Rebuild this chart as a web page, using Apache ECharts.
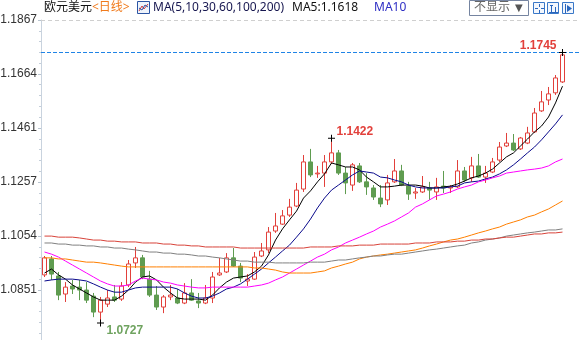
<!DOCTYPE html>
<html>
<head>
<meta charset="utf-8">
<script src="https://cdn.jsdelivr.net/npm/echarts@6/dist/echarts.min.js"></script>
<style>
  html, body { margin: 0; padding: 0; background: #ffffff; }
  #chart { width: 580px; height: 340px; }
</style>
</head>
<body>
<div id="chart"></div>
<script>
// EUR/USD daily bars, oldest first: [open, close, low, high]
const candles = [
  [1.0908, 1.0972, 1.0900, 1.0979],
  [1.0968, 1.0911, 1.0889, 1.0979],
  [1.0904, 1.0832, 1.0813, 1.0919],
  [1.0836, 1.0862, 1.0806, 1.0881],
  [1.0866, 1.0855, 1.0836, 1.0889],
  [1.0862, 1.0851, 1.0813, 1.0889],
  [1.0851, 1.0813, 1.0802, 1.0881],
  [1.0828, 1.0768, 1.0749, 1.0840],
  [1.0768, 1.0813, 1.0727, 1.0825],
  [1.0798, 1.0821, 1.0787, 1.0851],
  [1.0825, 1.0813, 1.0806, 1.0870],
  [1.0817, 1.0866, 1.0810, 1.0881],
  [1.0870, 1.0949, 1.0862, 1.0964],
  [1.0953, 1.0972, 1.0934, 1.1013],
  [1.0972, 1.0900, 1.0892, 1.0983],
  [1.0892, 1.0832, 1.0825, 1.0923],
  [1.0832, 1.0787, 1.0776, 1.0866],
  [1.0787, 1.0825, 1.0764, 1.0832],
  [1.0825, 1.0832, 1.0813, 1.0870],
  [1.0821, 1.0802, 1.0798, 1.0855],
  [1.0802, 1.0840, 1.0798, 1.0877],
  [1.0840, 1.0813, 1.0810, 1.0892],
  [1.0810, 1.0802, 1.0783, 1.0840],
  [1.0802, 1.0821, 1.0798, 1.0870],
  [1.0821, 1.0900, 1.0802, 1.0919],
  [1.0908, 1.0915, 1.0904, 1.0972],
  [1.0919, 1.0972, 1.0915, 1.0990],
  [1.0972, 1.0941, 1.0938, 1.1009],
  [1.0941, 1.0896, 1.0881, 1.0953],
  [1.0885, 1.0892, 1.0866, 1.0911],
  [1.0892, 1.0975, 1.0889, 1.0994],
  [1.0979, 1.0998, 1.0975, 1.1028],
  [1.1002, 1.1069, 1.0990, 1.1088],
  [1.1073, 1.1092, 1.1066, 1.1141],
  [1.1099, 1.1130, 1.1096, 1.1152],
  [1.1133, 1.1163, 1.1126, 1.1194],
  [1.1167, 1.1227, 1.1163, 1.1254],
  [1.1231, 1.1333, 1.1220, 1.1359],
  [1.1333, 1.1284, 1.1276, 1.1382],
  [1.1288, 1.1291, 1.1273, 1.1318],
  [1.1291, 1.1333, 1.1239, 1.1359],
  [1.1333, 1.1367, 1.1325, 1.1422],
  [1.1367, 1.1291, 1.1284, 1.1378],
  [1.1291, 1.1254, 1.1212, 1.1314],
  [1.1246, 1.1322, 1.1224, 1.1329],
  [1.1318, 1.1258, 1.1254, 1.1329],
  [1.1258, 1.1239, 1.1209, 1.1291],
  [1.1235, 1.1201, 1.1190, 1.1246],
  [1.1197, 1.1175, 1.1163, 1.1246],
  [1.1190, 1.1254, 1.1171, 1.1284],
  [1.1258, 1.1299, 1.1254, 1.1344],
  [1.1299, 1.1246, 1.1242, 1.1322],
  [1.1242, 1.1212, 1.1190, 1.1258],
  [1.1216, 1.1220, 1.1194, 1.1235],
  [1.1220, 1.1239, 1.1216, 1.1280],
  [1.1235, 1.1227, 1.1190, 1.1258],
  [1.1220, 1.1239, 1.1190, 1.1273],
  [1.1242, 1.1235, 1.1216, 1.1299],
  [1.1235, 1.1239, 1.1216, 1.1246],
  [1.1239, 1.1299, 1.1235, 1.1340],
  [1.1299, 1.1265, 1.1258, 1.1314],
  [1.1273, 1.1318, 1.1258, 1.1352],
  [1.1318, 1.1276, 1.1273, 1.1363],
  [1.1276, 1.1291, 1.1254, 1.1318],
  [1.1295, 1.1333, 1.1291, 1.1348],
  [1.1340, 1.1389, 1.1333, 1.1408],
  [1.1393, 1.1404, 1.1389, 1.1442],
  [1.1404, 1.1378, 1.1374, 1.1438],
  [1.1382, 1.1423, 1.1378, 1.1427],
  [1.1404, 1.1442, 1.1400, 1.1465],
  [1.1446, 1.1517, 1.1442, 1.1536],
  [1.1525, 1.1559, 1.1521, 1.1600],
  [1.1566, 1.1589, 1.1547, 1.1615],
  [1.1593, 1.1649, 1.1585, 1.1660],
  [1.1634, 1.1736, 1.1630, 1.1745]
];

// Moving averages as quoted by the terminal, one value per bar
const ma5 = [
  1.0915, 1.0930, 1.0908, 1.0892, 1.0870, 1.0855, 1.0840, 1.0825, 1.0813, 1.0813,
  1.0813, 1.0828, 1.0851, 1.0881, 1.0900, 1.0904, 1.0889, 1.0862, 1.0840, 1.0821,
  1.0817, 1.0817, 1.0817, 1.0813, 1.0832, 1.0859, 1.0881, 1.0896, 1.0900, 1.0904,
  1.0919, 1.0941, 1.0983, 1.1039, 1.1081, 1.1115, 1.1148, 1.1197, 1.1224, 1.1258,
  1.1288, 1.1329, 1.1322, 1.1314, 1.1314, 1.1303, 1.1276, 1.1258, 1.1239, 1.1239,
  1.1242, 1.1246, 1.1246, 1.1246, 1.1242, 1.1235, 1.1235, 1.1239, 1.1242, 1.1250,
  1.1261, 1.1273, 1.1280, 1.1291, 1.1306, 1.1329, 1.1352, 1.1367, 1.1393, 1.1419,
  1.1446, 1.1468, 1.1502, 1.1555, 1.1618
];
const ma10 = [
  1.0885, 1.0889, 1.0892, 1.0892, 1.0892, 1.0889, 1.0885, 1.0874, 1.0862, 1.0851,
  1.0843, 1.0843, 1.0851, 1.0859, 1.0862, 1.0862, 1.0862, 1.0862, 1.0862, 1.0855,
  1.0840, 1.0828, 1.0821, 1.0821, 1.0828, 1.0840, 1.0855, 1.0862, 1.0874, 1.0892,
  1.0911, 1.0930, 1.0953, 1.0975, 1.0998, 1.1020, 1.1050, 1.1081, 1.1118, 1.1160,
  1.1197, 1.1227, 1.1246, 1.1265, 1.1284, 1.1299, 1.1295, 1.1291, 1.1276, 1.1273,
  1.1265, 1.1258, 1.1246, 1.1239, 1.1235, 1.1235, 1.1235, 1.1235, 1.1239, 1.1242,
  1.1254, 1.1258, 1.1261, 1.1269, 1.1276, 1.1288, 1.1303, 1.1322, 1.1344, 1.1367,
  1.1389, 1.1416, 1.1446, 1.1476, 1.1510
];
const ma30 = [
  1.0994, 1.0986, 1.0975, 1.0960, 1.0945, 1.0930, 1.0915, 1.0900, 1.0885, 1.0874,
  1.0866, 1.0866, 1.0870, 1.0885, 1.0896, 1.0892, 1.0889, 1.0881, 1.0877, 1.0870,
  1.0866, 1.0862, 1.0859, 1.0859, 1.0862, 1.0862, 1.0862, 1.0862, 1.0862, 1.0862,
  1.0866, 1.0870, 1.0877, 1.0889, 1.0900, 1.0915, 1.0930, 1.0945, 1.0960, 1.0975,
  1.0986, 1.1002, 1.1013, 1.1028, 1.1039, 1.1050, 1.1062, 1.1073, 1.1088, 1.1099,
  1.1111, 1.1126, 1.1141, 1.1163, 1.1175, 1.1190, 1.1205, 1.1212, 1.1220, 1.1231,
  1.1239, 1.1246, 1.1258, 1.1265, 1.1273, 1.1280, 1.1291, 1.1295, 1.1299, 1.1303,
  1.1306, 1.1310, 1.1318, 1.1333, 1.1344
];
const ma60 = [
  1.0972, 1.0972, 1.0968, 1.0968, 1.0964, 1.0960, 1.0956, 1.0956, 1.0953, 1.0949,
  1.0945, 1.0941, 1.0938, 1.0938, 1.0938, 1.0938, 1.0938, 1.0938, 1.0938, 1.0938,
  1.0938, 1.0938, 1.0938, 1.0938, 1.0938, 1.0938, 1.0938, 1.0938, 1.0938, 1.0938,
  1.0934, 1.0934, 1.0930, 1.0926, 1.0919, 1.0915, 1.0915, 1.0915, 1.0915, 1.0919,
  1.0923, 1.0934, 1.0941, 1.0949, 1.0956, 1.0968, 1.0975, 1.0979, 1.0983, 1.0986,
  1.0990, 1.0994, 1.0998, 1.1002, 1.1009, 1.1017, 1.1024, 1.1032, 1.1039, 1.1043,
  1.1050, 1.1058, 1.1066, 1.1073, 1.1081, 1.1088, 1.1099, 1.1107, 1.1115, 1.1126,
  1.1133, 1.1145, 1.1156, 1.1171, 1.1186
];
const ma100 = [
  1.1028, 1.1028, 1.1024, 1.1024, 1.1020, 1.1020, 1.1017, 1.1017, 1.1013, 1.1013,
  1.1009, 1.1009, 1.1005, 1.1002, 1.0998, 1.0994, 1.0994, 1.0990, 1.0990, 1.0986,
  1.0986, 1.0983, 1.0979, 1.0979, 1.0975, 1.0972, 1.0968, 1.0964, 1.0960, 1.0960,
  1.0956, 1.0956, 1.0956, 1.0953, 1.0953, 1.0953, 1.0953, 1.0953, 1.0956, 1.0956,
  1.0956, 1.0960, 1.0964, 1.0964, 1.0968, 1.0972, 1.0975, 1.0979, 1.0979, 1.0983,
  1.0986, 1.0986, 1.0990, 1.0994, 1.0998, 1.1002, 1.1005, 1.1009, 1.1013, 1.1017,
  1.1020, 1.1028, 1.1032, 1.1039, 1.1043, 1.1047, 1.1054, 1.1058, 1.1062, 1.1066,
  1.1069, 1.1073, 1.1077, 1.1077, 1.1081
];
const ma200 = [
  1.1054, 1.1054, 1.1050, 1.1050, 1.1050, 1.1047, 1.1043, 1.1039, 1.1039, 1.1035,
  1.1035, 1.1032, 1.1032, 1.1032, 1.1028, 1.1028, 1.1028, 1.1024, 1.1024, 1.1020,
  1.1020, 1.1017, 1.1017, 1.1013, 1.1013, 1.1013, 1.1013, 1.1013, 1.1009, 1.1009,
  1.1009, 1.1009, 1.1009, 1.1009, 1.1009, 1.1009, 1.1009, 1.1009, 1.1013, 1.1013,
  1.1013, 1.1013, 1.1017, 1.1017, 1.1017, 1.1020, 1.1020, 1.1020, 1.1024, 1.1024,
  1.1024, 1.1024, 1.1024, 1.1028, 1.1028, 1.1028, 1.1032, 1.1032, 1.1032, 1.1035,
  1.1035, 1.1039, 1.1039, 1.1043, 1.1043, 1.1047, 1.1050, 1.1050, 1.1054, 1.1058,
  1.1062, 1.1062, 1.1066, 1.1066, 1.1069
];

// Price scale labels on the left axis
const yTicks = [1.0851, 1.1054, 1.1257, 1.1461, 1.1664, 1.1867];

// Bars whose extremes carry a price tag
const taggedHighs = [41, 74];
const taggedLows = [8];

const symbolName = '欧元美元';
const periodName = '<日线>';
const maTitle = 'MA(5,10,30,60,100,200)';

// ---------------------------------------------------------------------------
const days = candles.map((_, i) => String(i + 1));
const lastPrice = candles[candles.length - 1][3];
const yMin = 1.0663;
const yMax = yTicks[yTicks.length - 1];

// minor ticks: five subdivisions per labelled step
const minorTicks = [];
const step = yTicks[1] - yTicks[0];
for (let k = 1; k < 5; k++) minorTicks.push(yTicks[0] - step * k / 5);
for (let i = 0; i < yTicks.length - 1; i++) {
  const a = yTicks[i], b = yTicks[i + 1];
  for (let k = 1; k < 5; k++) minorTicks.push(a + (b - a) * k / 5);
}

const UP = '#e2403b';
const DOWN = '#5f9c50';
const plus = 'path://M0,3H7V4H0Z M3,0H4V7H3Z';

const tagPoints = [];
taggedHighs.forEach(i => {
  const v = candles[i][3];
  const rightSide = i > candles.length - 5;
  tagPoints.push({
    coord: [days[i], v], value: v,
    label: {
      color: UP, align: rightSide ? 'right' : 'left',
      offset: rightSide ? [-6, -7] : [5, -7]
    }
  });
});
taggedLows.forEach(i => {
  const v = candles[i][2];
  tagPoints.push({
    coord: [days[i], v], value: v,
    label: { color: '#6fa35f', align: 'left', offset: [6, 8] }
  });
});

const maSeries = [
  { name: 'MA5', data: ma5, color: '#000000' },
  { name: 'MA10', data: ma10, color: '#0a0a8c' },
  { name: 'MA30', data: ma30, color: '#ff00ff' },
  { name: 'MA60', data: ma60, color: '#ff7f00' },
  { name: 'MA100', data: ma100, color: '#808080' },
  { name: 'MA200', data: ma200, color: '#d8433a' }
].map(m => ({
  name: m.name,
  type: 'line',
  data: m.data,
  showSymbol: false,
  symbol: 'none',
  smooth: false,
  z: 3,
  silent: true,
  lineStyle: { color: m.color, width: 1 }
}));

// last-price line and the dashed top rule of the price pane
maSeries[0].clip = false;
maSeries[0].markLine = {
  silent: true, symbol: 'none', animation: false, precision: 4,
  label: { show: false },
  data: [
    { yAxis: lastPrice, lineStyle: { color: '#1f84e6', width: 1, type: [4, 2] } },
    { yAxis: yMax, lineStyle: { color: '#cfcfcf', width: 1, type: [4, 3] } }
  ]
};

const headerFont = '12px "Noto Sans", "Noto Sans CJK SC", sans-serif';
function label(x, text, fill, font) {
  return {
    type: 'text', x: x, y: 8, silent: true,
    style: { text: text, fill: fill, font: font || headerFont, verticalAlign: 'middle' }
  };
}
function iconBox(x) {
  return {
    type: 'rect', shape: { x: x + 0.5, y: 2.5, width: 11, height: 11 },
    style: { fill: '#f3f7fd', stroke: '#3a78c8', lineWidth: 1 }
  };
}
const iconInk = { stroke: '#2a66bd', lineWidth: 1, fill: null };

const chart = echarts.init(document.getElementById('chart'), null, { renderer: 'canvas' });
chart.setOption({
  animation: false,
  backgroundColor: '#ffffff',
  grid: { left: 41, right: 0, top: 20, bottom: 0, outerBoundsMode: 'none' },
  xAxis: {
    type: 'category', data: days, max: days.length + 1, boundaryGap: true,
    axisLine: { show: false }, axisTick: { show: false }, axisLabel: { show: false },
    splitLine: { show: false }
  },
  yAxis: [
    {
      type: 'value', position: 'left', min: yMin, max: yMax, scale: true,
      axisLine: { show: true, lineStyle: { color: '#c9d3de' } },
      axisTick: { show: true, inside: false, length: 3, customValues: yTicks,
                  lineStyle: { color: '#b8c4d0' } },
      axisLabel: {
        show: true, customValues: yTicks, margin: 4,
        color: '#333333', fontSize: 12, fontFamily: '"Liberation Sans", Arial, sans-serif',
        formatter: v => v.toFixed(4)
      },
      splitLine: { show: false }
    },
    {
      type: 'value', position: 'left', min: yMin, max: yMax, scale: true,
      axisLine: { show: false },
      axisTick: { show: true, inside: false, length: 2, customValues: minorTicks,
                  lineStyle: { color: '#c4ced9' } },
      axisLabel: { show: false },
      splitLine: { show: false }
    }
  ],
  series: [
    {
      name: symbolName,
      type: 'candlestick',
      data: candles,
      barWidth: 5,
      z: 2,
      silent: true,
      itemStyle: {
        color: '#ffffff', color0: DOWN,
        borderColor: UP, borderColor0: DOWN, borderWidth: 1
      },
      markPoint: {
        silent: true, animation: false,
        symbol: plus, symbolSize: [7, 7],
        itemStyle: { color: '#000000' },
        label: {
          show: true, position: 'inside', verticalAlign: 'middle',
          fontSize: 12, fontWeight: 'bold',
          fontFamily: '"Liberation Sans", Arial, sans-serif',
          formatter: p => Number(p.value).toFixed(4)
        },
        data: tagPoints
      }
    }
  ].concat(maSeries),
  graphic: [
    label(44, symbolName, '#111111'),
    label(92, periodName, '#f07a1c'),
    {
      type: 'group', x: 137, y: 1, children: [
        { type: 'rect', shape: { x: 0.5, y: 0.5, width: 12, height: 12 },
          style: { fill: '#eef3fb', stroke: '#2b55a4', lineWidth: 1 } },
        { type: 'polyline', shape: { points: [[2, 10], [5, 5], [7, 8], [11, 3]] },
          style: { stroke: '#d23a3a', lineWidth: 1, fill: null } },
        { type: 'polyline', shape: { points: [[2, 7], [5, 9], [8, 4], [11, 6]] },
          style: { stroke: '#2b55a4', lineWidth: 1, fill: null } }
      ]
    },
    label(153, maTitle, '#16164f'),
    label(292, 'MA5:' + ma5[ma5.length - 1].toFixed(4), '#111111'),
    label(374, 'MA10', '#2d2dc4'),
    {
      type: 'rect', shape: { x: 469.5, y: 0.5, width: 59, height: 15 },
      style: { fill: '#ffffff', stroke: '#7584a0', lineWidth: 1 }
    },
    label(474, '不显示', '#666666'),
    label(515, '▼', '#555555', '10px "DejaVu Sans", sans-serif'),
    iconBox(533),
    { type: 'group', x: 533, y: 2, children: [
      { type: 'line', shape: { x1: 6.5, y1: 2, x2: 6.5, y2: 5 }, style: iconInk },
      { type: 'line', shape: { x1: 6.5, y1: 8, x2: 6.5, y2: 11 }, style: iconInk },
      { type: 'line', shape: { x1: 2, y1: 6.5, x2: 5, y2: 6.5 }, style: iconInk },
      { type: 'line', shape: { x1: 8, y1: 6.5, x2: 11, y2: 6.5 }, style: iconInk }
    ] },
    iconBox(547),
    { type: 'group', x: 547, y: 2, children: [
      { type: 'line', shape: { x1: 2, y1: 10.5, x2: 11, y2: 10.5 }, style: iconInk },
      { type: 'line', shape: { x1: 4.5, y1: 3, x2: 4.5, y2: 10 }, style: iconInk },
      { type: 'line', shape: { x1: 8.5, y1: 5, x2: 8.5, y2: 10 }, style: iconInk },
      { type: 'line', shape: { x1: 3, y1: 3.5, x2: 6, y2: 3.5 }, style: iconInk }
    ] },
    iconBox(562),
    { type: 'group', x: 562, y: 2, children: [
      { type: 'line', shape: { x1: 3.5, y1: 2, x2: 3.5, y2: 11 }, style: iconInk },
      { type: 'polygon', shape: { points: [[5, 3], [10, 6.5], [5, 10]] },
        style: { fill: '#2a66bd' } }
    ] }
  ]
});
</script>
</body>
</html>
